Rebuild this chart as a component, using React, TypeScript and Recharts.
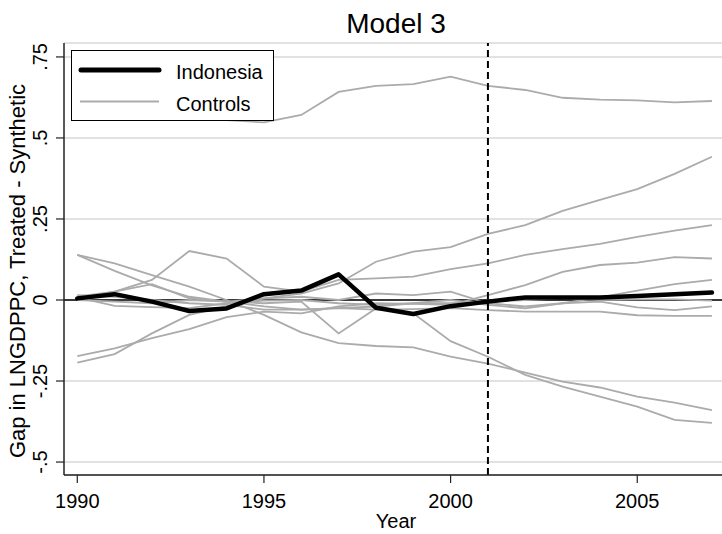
import React from 'react';
import { LineChart, Line, XAxis, YAxis, CartesianGrid, ReferenceLine, Legend } from 'recharts';

const years = [1990, 1991, 1992, 1993, 1994, 1995, 1996, 1997, 1998, 1999, 2000, 2001, 2002, 2003, 2004, 2005, 2006, 2007];

const indonesia = [0.005, 0.018, -0.005, -0.034, -0.026, 0.018, 0.029, 0.079, -0.024, -0.043, -0.019, -0.005, 0.008, 0.008, 0.008, 0.012, 0.018, 0.023];

const control1 = [0.6, 0.59, 0.58, 0.57, 0.555, 0.548, 0.571, 0.642, 0.661, 0.666, 0.689, 0.661, 0.648, 0.624, 0.618, 0.616, 0.61, 0.614];
const control2 = [-0.193, -0.167, -0.103, -0.046, -0.02, 0.005, 0.02, 0.051, 0.118, 0.149, 0.163, 0.204, 0.231, 0.275, 0.309, 0.342, 0.389, 0.442];
const control3 = [0.01, 0.026, 0.062, 0.151, 0.128, 0.041, 0.026, 0.062, 0.067, 0.072, 0.095, 0.113, 0.139, 0.157, 0.173, 0.195, 0.214, 0.231];
const control4 = [-0.173, -0.149, -0.118, -0.09, -0.053, -0.036, -0.041, -0.02, -0.01, -0.012, -0.015, 0.015, 0.046, 0.087, 0.108, 0.115, 0.132, 0.128];
const control5 = [0.008, -0.018, -0.022, -0.025, -0.01, -0.002, 0.0, -0.01, -0.015, -0.01, 0.0, -0.015, -0.026, -0.01, 0.008, 0.029, 0.049, 0.062];
const control6 = [0.005, 0.026, 0.049, 0.005, -0.005, -0.02, -0.03, -0.025, -0.02, -0.01, -0.01, -0.005, 0.0, 0.005, 0.0, 0.002, 0.002, -0.002];
const control7 = [0.0, -0.005, -0.01, 0.0, -0.005, 0.005, 0.01, 0.0, 0.02, 0.015, 0.026, -0.01, -0.02, -0.01, -0.005, -0.023, -0.031, -0.02];
const control8 = [0.015, 0.01, 0.0, -0.01, -0.015, -0.03, -0.03, -0.025, -0.03, -0.028, -0.025, -0.031, -0.036, -0.036, -0.036, -0.047, -0.049, -0.049];
const control9 = [0.139, 0.113, 0.077, 0.041, 0.0, -0.046, -0.1, -0.133, -0.142, -0.146, -0.175, -0.196, -0.224, -0.252, -0.27, -0.298, -0.317, -0.34];
const control10 = [0.139, 0.09, 0.045, 0.01, -0.005, -0.01, -0.005, -0.103, -0.026, -0.041, -0.127, -0.175, -0.231, -0.267, -0.298, -0.329, -0.37, -0.379];

const controls = [control1, control2, control3, control4, control5, control6, control7, control8, control9, control10];

const xTicks = [1990, 1995, 2000, 2005];
const yTicks = [-0.5, -0.25, 0, 0.25, 0.5, 0.75];
const yTickLabels = ['-.5', '-.25', '0', '.25', '.5', '.75'];
const treatmentYear = 2001;

const title = 'Model 3';
const xLabel = 'Year';
const yLabel = 'Gap in LNGDPPC, Treated - Synthetic';
const legendLabels = ['Indonesia', 'Controls'];

const data = years.map((year, i) => {
  const row: Record<string, number> = { year, indonesia: indonesia[i] };
  controls.forEach((s, k) => {
    row[`c${k + 1}`] = s[i];
  });
  return row;
});

const FONT = '"Liberation Sans", Arial, Helvetica, sans-serif';
const GRAY = '#ababab';

const YTick = (props: any) => {
  const { x, y, payload } = props;
  const tx = x - 6.5;
  const idx = yTicks.indexOf(payload.value);
  return (
    <text x={tx} y={y} transform={`rotate(-90 ${tx} ${y})`} textAnchor="middle" fontSize={20} fill="#000" fontFamily={FONT}>
      {idx >= 0 ? yTickLabels[idx] : String(payload.value)}
    </text>
  );
};

const XTick = (props: any) => {
  const { x, y, payload } = props;
  return (
    <text x={x} y={y + 23} textAnchor="middle" fontSize={20} fill="#000" fontFamily={FONT}>
      {payload.value}
    </text>
  );
};

const LegendBox = () => (
  <svg width={204} height={72} style={{ display: 'block' }}>
    <rect x={0.5} y={0.5} width={202} height={70} fill="#fff" stroke="#000" strokeWidth={1} />
    <line x1={10} y1={20} x2={88} y2={20} stroke="#000" strokeWidth={5} strokeLinecap="round" />
    <line x1={9} y1={51.5} x2={88} y2={51.5} stroke={GRAY} strokeWidth={1.8} />
    <text x={105} y={29} fontSize={20} fontFamily={FONT} fill="#000">{legendLabels[0]}</text>
    <text x={105} y={61} fontSize={20} fontFamily={FONT} fill="#000">{legendLabels[1]}</text>
  </svg>
);

export default function App() {
  return (
    <div style={{ position: 'absolute', left: 0, top: 0, width: 722, height: 534, background: '#fff' }}>
      <LineChart width={722} height={534} data={data} margin={{ top: 43, right: 0, bottom: 0, left: 0 }}>
        <CartesianGrid horizontal={true} vertical={false} stroke="#e2e2e2" strokeWidth={2} />
        <XAxis
          dataKey="year"
          type="number"
          domain={[1989.644, 2007.27]}
          allowDataOverflow
          ticks={xTicks}
          interval={0}
          height={59}
          tickSize={8}
          tick={<XTick />}
          axisLine={{ stroke: '#222', strokeWidth: 1.5 }}
          tickLine={{ stroke: '#222', strokeWidth: 1.2 }}
        />
        <XAxis
          xAxisId="top"
          orientation="top"
          dataKey="year"
          type="number"
          domain={[1989.644, 2007.27]}
          allowDataOverflow
          height={0}
          tick={false}
          tickLine={false}
          axisLine={{ stroke: '#666', strokeWidth: 1.5 }}
        />
        <YAxis
          type="number"
          domain={[-0.54, 0.793]}
          allowDataOverflow
          ticks={yTicks}
          interval={0}
          width={64}
          tickSize={8}
          tick={<YTick />}
          axisLine={{ stroke: '#222', strokeWidth: 1.5 }}
          tickLine={{ stroke: '#222', strokeWidth: 1.2 }}
        />
        <ReferenceLine y={0} stroke="#000" strokeWidth={1.5} />
        {controls.map((_, k) => (
          <Line
            key={k}
            type="linear"
            dataKey={`c${k + 1}`}
            stroke={GRAY}
            strokeWidth={1.8}
            dot={false}
            activeDot={false}
            isAnimationActive={false}
            legendType="none"
          />
        ))}
        <Line
          type="linear"
          dataKey="indonesia"
          stroke="#000"
          strokeWidth={4.5}
          strokeLinejoin="round"
          strokeLinecap="round"
          dot={false}
          activeDot={false}
          isAnimationActive={false}
        />
        <ReferenceLine x={treatmentYear} stroke="#000" strokeWidth={2} strokeDasharray="7 4" />
        <Legend
          layout="horizontal"
          align="center"
          verticalAlign="middle"
          content={() => <LegendBox />}
          wrapperStyle={{ position: 'absolute', left: 71, top: 50, width: 204, height: 72 }}
        />
        <text x={396} y={33} textAnchor="middle" fontSize={28} fontFamily={FONT} fill="#000">{title}</text>
        <text x={396} y={528} textAnchor="middle" fontSize={20} fontFamily={FONT} fill="#000">{xLabel}</text>
        <text x={25} y={271} transform="rotate(-90 25 271)" textAnchor="middle" fontSize={22} fontFamily={FONT} fill="#000">{yLabel}</text>
      </LineChart>
    </div>
  );
}
